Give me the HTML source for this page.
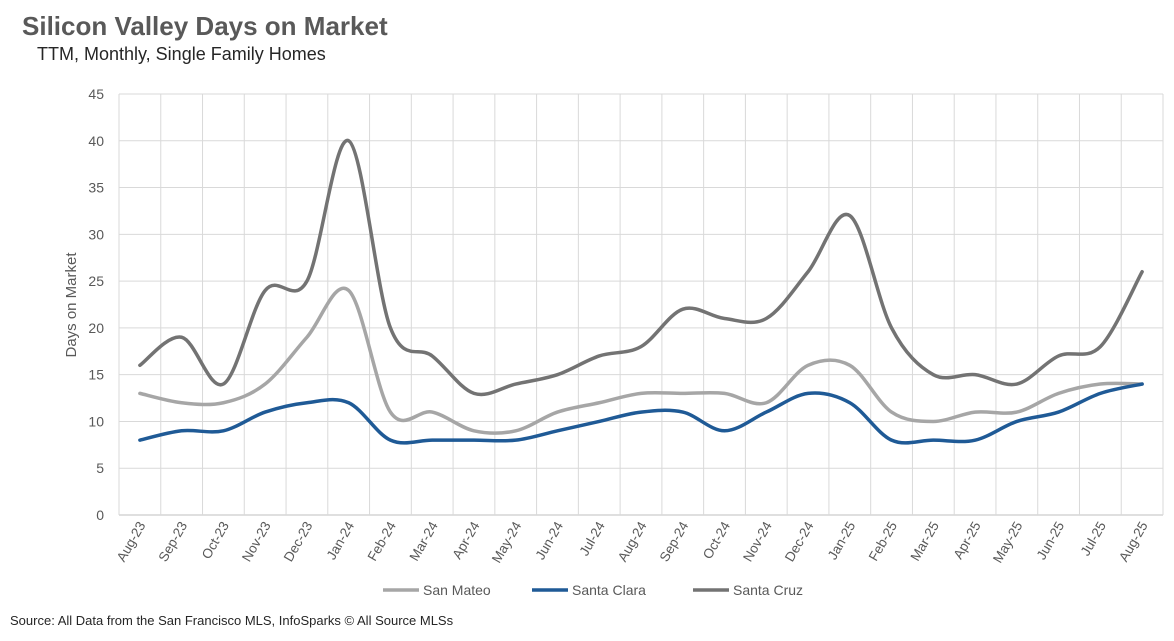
<!DOCTYPE html>
<html><head><meta charset="utf-8"><style>
body{margin:0;background:#fff;width:1174px;height:636px;overflow:hidden;font-family:"Liberation Sans",sans-serif}
</style></head><body>
<svg id="chart" width="1174" height="636" xmlns="http://www.w3.org/2000/svg">
<text x="22" y="35" font-size="26" font-weight="bold" fill="#595959">Silicon Valley Days on Market</text>
<text x="37" y="60" font-size="18" fill="#262626">TTM, Monthly, Single Family Homes</text>
<text transform="translate(76,305) rotate(-90)" text-anchor="middle" font-size="15" fill="#595959">Days on Market</text>
<text x="10" y="625" font-size="13" fill="#262626">Source: All Data from the San Francisco MLS, InfoSparks © All Source MLSs</text>
<g id="grid"></g><g id="axes"></g><g id="series"></g><g id="legend"></g>
</svg>
<script>
const categories=["Aug-23","Sep-23","Oct-23","Nov-23","Dec-23","Jan-24","Feb-24","Mar-24","Apr-24","May-24","Jun-24","Jul-24","Aug-24","Sep-24","Oct-24","Nov-24","Dec-24","Jan-25","Feb-25","Mar-25","Apr-25","May-25","Jun-25","Jul-25","Aug-25"];
const sanMateo=[13,12,12,14,19,24,11,11,9,9,11,12,13,13,13,12,16,16,11,10,11,11,13,14,14];
const santaClara=[8,9,9,11,12,12,8,8,8,8,9,10,11,11,9,11,13,12,8,8,8,10,11,13,14];
const santaCruz=[16,19,14,24,25,40,20,17,13,14,15,17,18,22,21,21,26,32,20,15,15,14,17,18,26];
const yTicks=[0,5,10,15,20,25,30,35,40,45];
const seriesNames=["San Mateo","Santa Clara","Santa Cruz"];
const seriesColors=["#a6a6a6","#1f5a96","#737373"];
const NS="http://www.w3.org/2000/svg";
const L=119,R=1163,T=94,B=515,yMax=45;
const bw=(R-L)/categories.length;
const x=i=>L+bw*(i+0.5);
const y=v=>B-(v/yMax)*(B-T);
function mk(tag,attrs,parent){const e=document.createElementNS(NS,tag);for(const k in attrs)e.setAttribute(k,attrs[k]);parent.appendChild(e);return e;}
const grid=document.getElementById('grid'),axes=document.getElementById('axes'),ser=document.getElementById('series'),leg=document.getElementById('legend');
yTicks.forEach(t=>{
 const l=mk('line',{x1:L,x2:R,y1:y(t),y2:y(t),stroke:t===0?'#bfbfbf':'#d9d9d9','stroke-width':1},grid);
 
 
 const tx=mk('text',{x:104,y:y(t)+5,'text-anchor':'end','font-size':14,fill:'#595959'},axes);
 tx.textContent=t;
 
 
});
for(let i=0;i<=categories.length;i++){
 const l=mk('line',{x1:L+bw*i,x2:L+bw*i,y1:T,y2:B,stroke:'#d9d9d9','stroke-width':1},grid);
 
 
}
categories.forEach((c,i)=>{
 const tx=mk('text',{transform:`translate(${x(i)+6},${B+10}) rotate(-60)`,'text-anchor':'end','font-size':13.5,fill:'#595959'},axes);
 tx.textContent=c;
 
 
});
function smooth(vals){
 const p=vals.map((v,i)=>[x(i),y(v)]);
 let d=`M${p[0][0]},${p[0][1]}`;
 for(let i=0;i<p.length-1;i++){
  const p0=p[Math.max(0,i-1)],p1=p[i],p2=p[i+1],p3=p[Math.min(p.length-1,i+2)];
  const k=1/6;
  d+=` C${p1[0]+(p2[0]-p0[0])*k},${p1[1]+(p2[1]-p0[1])*k} ${p2[0]-(p3[0]-p1[0])*k},${p2[1]-(p3[1]-p1[1])*k} ${p2[0]},${p2[1]}`;
 }
 return d;
}
[sanMateo,santaClara,santaCruz].forEach((vals,s)=>{
 const p=mk('path',{d:smooth(vals),fill:'none',stroke:seriesColors[s],'stroke-width':3.5,'stroke-linejoin':'round','stroke-linecap':'round'},ser);
 
 
});
const legX=[383,532,693];
seriesNames.forEach((n,s)=>{
 const l=mk('line',{x1:legX[s],x2:legX[s]+36,y1:590,y2:590,stroke:seriesColors[s],'stroke-width':3.5},leg);
 
 
 const t=mk('text',{x:legX[s]+40,y:595,'font-size':14,fill:'#595959'},leg);
 t.textContent=n;
 
 
});
</script>
</body></html>
